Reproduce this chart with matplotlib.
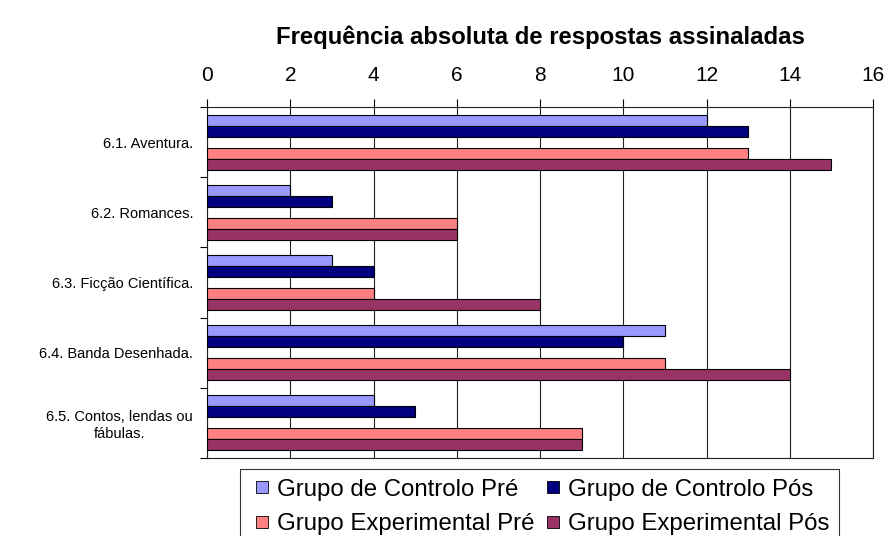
import numpy as np
import matplotlib.pyplot as plt
from matplotlib.lines import Line2D

plt.rcParams['font.family'] = ['Liberation Sans', 'DejaVu Sans']

# categorias e séries
categorias = ["6.1. Aventura.", "6.2. Romances.", "6.3. Ficção Científica.",
              "6.4. Banda Desenhada.", "6.5. Contos, lendas ou\nfábulas."]
series = ["Grupo de Controlo Pré", "Grupo de Controlo Pós",
          "Grupo Experimental Pré", "Grupo Experimental Pós"]
controlo_pre = [12, 2, 3, 11, 4]
controlo_pos = [13, 3, 4, 10, 5]
experimental_pre = [13, 6, 4, 11, 9]
experimental_pos = [15, 6, 8, 14, 9]
valores = [controlo_pre, controlo_pos, experimental_pre, experimental_pos]
cores = ["#9999FF", "#000080", "#FF8080", "#993366"]

fig = plt.figure(figsize=(8.9, 5.36), dpi=100)
ax = fig.add_axes([0.2326, 0.1455, 0.7484, 0.6549])

y = np.arange(len(categorias))
h = 11 / 70
offsets = [-2, -1, 1, 2]
for vals, cor, nome, off in zip(valores, cores, series, offsets):
    ax.barh(y + off * h, vals, height=h, color=cor, edgecolor="black",
            linewidth=0.8, label=nome, zorder=3)

ax.set_xlim(0, 16)
ax.set_ylim(len(categorias) - 0.5, -0.5)
ax.set_xticks(np.arange(0, 17, 2))
ax.xaxis.tick_top()
ax.xaxis.set_label_position("top")
ax.set_xlabel("Frequência absoluta de respostas assinaladas",
              fontsize=17.2, fontweight="bold", labelpad=16)
ax.tick_params(axis="x", labelsize=15, length=6, width=0.8, pad=10)
ax.set_yticks(y)
ax.set_yticklabels(categorias, fontsize=10.5, multialignment="center")
ax.set_yticks(np.arange(-0.5, len(categorias)), minor=True)
ax.tick_params(axis="y", which="major", length=0, pad=10)
ax.tick_params(axis="y", which="minor", length=5, width=0.8)
ax.grid(axis="x", color="#222222", linewidth=0.8, zorder=0)
for s in ax.spines.values():
    s.set_linewidth(0.8)
    s.set_color("#222222")

# legenda com quadrados, ordem por linhas como no original
ordem = [0, 2, 1, 3]
marcas = [Line2D([], [], linestyle="none", marker="s", markersize=9,
                 markerfacecolor=cores[i], markeredgecolor="black",
                 markeredgewidth=0.6) for i in ordem]
leg = fig.legend(marcas, [series[i] for i in ordem],
                 loc="upper left", bbox_to_anchor=(240 / 890, 1 - 469 / 536),
                 ncol=2, fontsize=17.3, frameon=True, fancybox=False,
                 edgecolor="black", handlelength=1.0, handletextpad=0.12,
                 columnspacing=0.3, borderpad=0.4, labelspacing=0.53,
                 borderaxespad=0)
leg.get_frame().set_linewidth(0.8)

fig.savefig("out.png", dpi=100)
